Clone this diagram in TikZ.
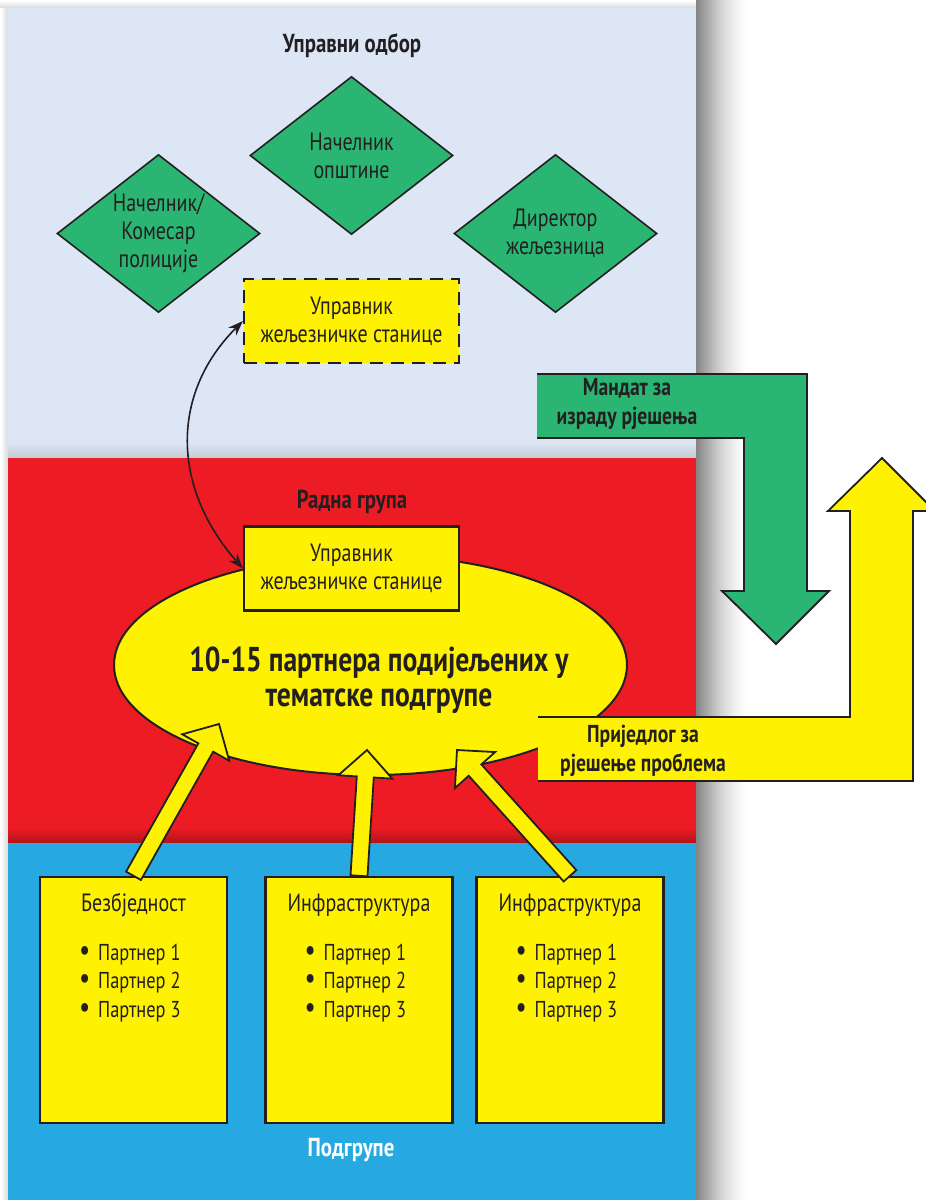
\documentclass[tikz,border=0pt]{standalone}
\usepackage{fontspec}
\setmainfont[FakeStretch=0.8]{PT Sans}
\usetikzlibrary{calc,arrows.meta,positioning,shapes.geometric}
\definecolor{boardblue}{HTML}{DCE6F4}
\definecolor{groupred}{HTML}{ED1C24}
\definecolor{subblue}{HTML}{26A9E0}
\definecolor{boardgreen}{HTML}{2BB573}
\definecolor{notepad}{HTML}{FFF200}
\definecolor{ink}{HTML}{231F20}
\newcommand{\fsreg}{\fontsize{25pt}{28pt}\selectfont}
\newcommand{\fshead}{\fontsize{26pt}{28pt}\selectfont\bfseries}
\newcommand{\fsbig}{\fontsize{34.5pt}{35pt}\selectfont\bfseries}
\newcommand{\fsflow}{\fontsize{24.5pt}{29pt}\selectfont\bfseries}
\newcommand{\dotitem}{{\fontsize{31pt}{0pt}\selectfont\textbullet}\hspace{8pt}}
\tikzset{
  every node/.style={text=ink},
  member/.style={diamond,draw=ink,line width=1.6pt,fill=boardgreen,inner sep=-16pt,
    minimum width=203pt,minimum height=158pt,align=center,font=\fsreg},
  manager/.style={rectangle,draw=ink,line width=2.2pt,fill=notepad,
    minimum width=215pt,minimum height=84pt,align=center,font=\fsreg},
  subbox/.style={rectangle,draw=ink,line width=2.4pt,fill=notepad,
    minimum width=187pt,minimum height=246pt},
  heading/.style={font=\fshead},
  sublist/.style={anchor=north west,align=left,inner sep=0pt,
    font=\fontsize{23pt}{28.5pt}\selectfont},
  blockfill/.style={fill=notepad,draw=ink,line width=1.8pt,line join=miter}
}
% yellow block arrow from #1 (tail) to #2 (tip)
\newcommand{\blockarrow}[2]{%
  \coordinate (ba) at ($(#2)!27pt!(#1)$);
  \draw[blockfill] ($(#1)!8.5pt!90:(#2)$) -- ($(ba)!8.5pt!-90:(#1)$)
    -- ($(ba)!27pt!-90:(#1)$) -- (#2) -- ($(ba)!27pt!90:(#1)$)
    -- ($(ba)!8.5pt!90:(#1)$) -- ($(#1)!8.5pt!-90:(#2)$) -- cycle;
}

\begin{document}
\begin{tikzpicture}[x=1pt,y=-1pt]
  \useasboundingbox (0,0) rectangle (926,1200);
  % shadows
  \foreach \i [evaluate=\i as \pct using {48*(1-\i/26)^1.6}] in {0,...,25}
    \fill[black!\pct!white] (696+2*\i,0) rectangle ++(2.2,1200);
  \foreach \i [evaluate=\i as \pct using {4*\i}] in {0,...,3}{
    \fill[black!\pct!white] (0,2*\i) rectangle ++(696,2.2);
    \fill[black!\pct!white] (2*\i,8) rectangle ++(2.2,1192);
  }
  % panels
  \fill[boardblue] (8,8) rectangle (696,458);
  \foreach \i [evaluate=\i as \pct using {100-3.5*\i}] in {0,...,7}
    \fill[boardblue!\pct!gray] (8,442+2*\i) rectangle ++(688,2.2);
  \fill[groupred] (8,458) rectangle (696,843);
  \foreach \i [evaluate=\i as \pct using {100-3.5*\i}] in {0,...,7}
    \fill[groupred!\pct!black] (8,827+2*\i) rectangle ++(688,2.2);
  \fill[subblue] (8,843) rectangle (696,1200);

  % board
  \node[heading] (board) at (352,46) {Управни одбор};
  \node[member] (mayor) at (351.5,155.5) {Начелник\\општине};
  \node[member] (police) at (158.5,233.5) {Начелник/\\Комесар\\полиције};
  \node[member] (railway) at (555.5,233.5) {Директор\\жељезница};
  \node[manager,dashed,dash pattern=on 13pt off 8pt] (mgr1) at (351.5,321)
    {Управник\\жељезничке станице};

  % working group
  \node[heading] (group) at (352,502) {Радна група};
  \node[ellipse,draw=ink,line width=2pt,fill=notepad,inner sep=0pt,
    minimum width=513pt,minimum height=220pt] (partners) at (370.5,665) {};
  \node[font=\fsbig,align=center] (partnerstxt) at (379,680)
    {10-15 партнера подијељених у\\тематске подгрупе};
  \node[manager] (mgr2) at (351.5,568.5) {Управник\\жељезничке станице};
  \draw[<->,>={Stealth[length=15pt,width=11pt]},line width=1.6pt,ink]
    (mgr1.west) .. controls +(-72,72) and +(-72,-82) .. (mgr2.west);

  % mandate
  \fill[boardgreen] (537,374) -- (807,374) -- (807,591) -- (829,591) -- (776,644)
    -- (722,591) -- (744,591) -- (744,438) -- (537,438) -- cycle;
  \draw[ink,line width=1.8pt,line join=miter] (537,374) -- (807,374) -- (807,591)
    -- (829,591) -- (776,644) -- (722,591) -- (744,591) -- (744,438) -- (537,438);
  \node[font=\fsflow,align=center] (mandate) at (627,404) {Мандат за\\израду рјешења};

  % proposal
  \begin{scope}
    \clip (0,0) rectangle (926,1200);
    \fill[notepad] (538,717) -- (850,717) -- (850,511) -- (828,511) -- (882,458)
      -- (935,511) -- (913,511) -- (913,781) -- (538,781) -- cycle;
    \draw[ink,line width=1.8pt,line join=miter] (538,717) -- (850,717) -- (850,511)
      -- (828,511) -- (882,458) -- (935,511) -- (913,511) -- (913,781) -- (538,781);
  \end{scope}
  \node[font=\fsflow,align=center] (proposal) at (643,751) {Приједлог за\\рјешење проблема};

  % subgroups
  \node[subbox] (sub1) at (133.5,1000) {};
  \node[subbox] (sub2) at (359,1000) {};
  \node[subbox] (sub3) at (570,1000) {};
  \foreach \S/\T in {sub1/Безбједност,sub2/Инфраструктура,sub3/Инфраструктура}{
    \node[font=\fsreg] (\S-title) at ($(\S.north)+(0,29)$) {\T};
    \node[sublist] (\S-list) at ($(\S.north west)+(40,68)$)
      {\dotitem Партнер 1\\\dotitem Партнер 2\\\dotitem Партнер 3};
  }
  \node[heading,text=white] (subs) at (351,1150) {Подгрупе};

  % arrows into the working group
  \coordinate (in1) at (219,724);
  \coordinate (in2) at (367,750);
  \coordinate (in3) at (457,750);
  \blockarrow{sub1.north}{in1}
  \blockarrow{sub2.north}{in2}
  \blockarrow{sub3.north}{in3}
\end{tikzpicture}
\end{document}
